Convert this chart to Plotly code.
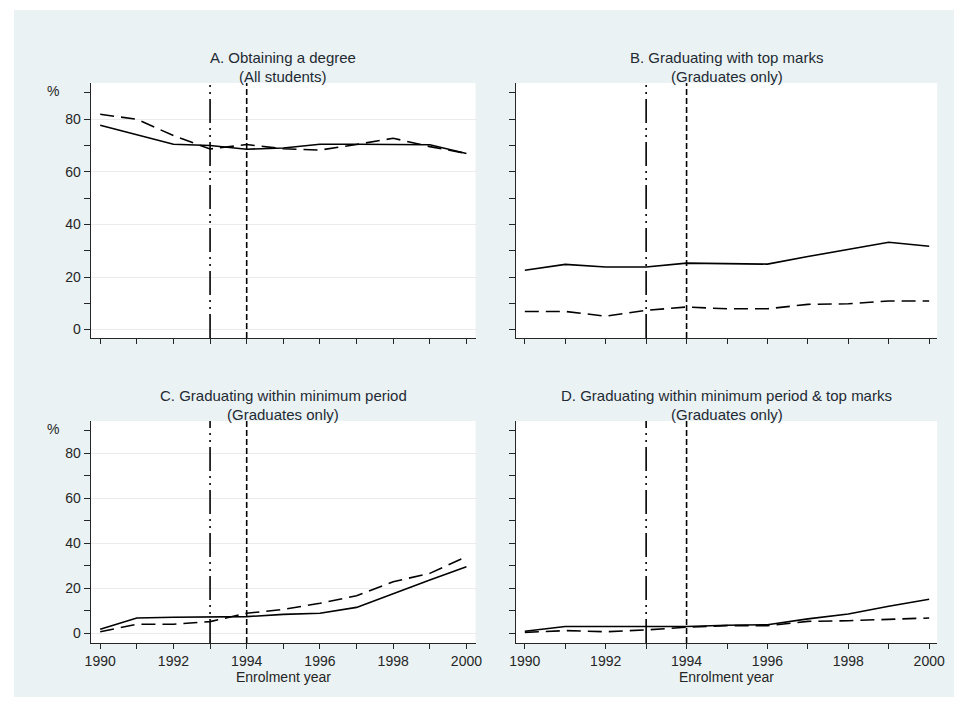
import plotly.graph_objects as go

years = [1990, 1991, 1992, 1993, 1994, 1995, 1996, 1997, 1998, 1999, 2000]

a_solid = [77.7, 74.0, 70.5, 70.0, 68.6, 69.1, 70.5, 70.5, 70.5, 70.3, 67.0]
a_dash = [81.9, 80.0, 73.8, 68.7, 70.4, 68.8, 68.3, 70.4, 72.8, 69.6, 67.0]

b_solid = [22.6, 24.8, 23.8, 23.8, 25.3, 25.1, 24.9, 27.8, 30.4, 33.2, 31.7]
b_dash = [6.9, 6.9, 5.1, 7.3, 8.6, 7.9, 7.9, 9.6, 9.8, 10.9, 10.9]

c_solid = [1.8, 6.8, 7.1, 7.4, 7.4, 8.4, 8.9, 11.5, 17.7, 23.6, 29.5]
c_dash = [0.7, 4.0, 4.0, 5.2, 8.9, 10.6, 13.3, 16.7, 22.9, 26.6, 34.0]

d_solid = [0.9, 3.0, 3.0, 3.0, 3.0, 3.6, 3.8, 6.4, 8.6, 12.0, 15.1]
d_dash = [0.4, 1.2, 0.7, 1.5, 2.7, 3.4, 3.4, 5.3, 5.6, 6.1, 6.8]

titles = ["A. Obtaining a degree", "B. Graduating with top marks",
          "C. Graduating within minimum period", "D. Graduating within minimum period & top marks"]
subtitles = ["(All students)", "(Graduates only)", "(Graduates only)", "(Graduates only)"]
reform_years = [1993, 1994]
xlabel = "Enrolment year"
ylabel = "%"
major_y = [0, 20, 40, 60, 80]
minor_y = [10, 30, 50, 70, 90]
x_ticks = [1990, 1991, 1992, 1993, 1994, 1995, 1996, 1997, 1998, 1999, 2000]
x_labels = ["1990", "", "1992", "", "1994", "", "1996", "", "1998", "", "2000"]

W, H = 962, 707
BG = "#eaf2f3"
INK = "#262626"
FONT = "Liberation Sans, Arial, sans-serif"

def px(x):
    return x / W

def py(y):
    return 1 - y / H

# panel boxes in pixels: left, right, top, bottom
boxes = [(85, 476, 83, 338), (517, 945, 83, 338), (85, 476, 421, 643), (517, 945, 421, 643)]
xranges = [[1989.74, 2000.25], [1989.78, 2000.2], [1989.74, 2000.25], [1989.78, 2000.2]]
yranges = [[-3.2, 93.8], [-3.2, 93.8], [-4.3, 94.2], [-4.3, 94.2]]
series = [(a_solid, a_dash), (b_solid, b_dash), (c_solid, c_dash), (d_solid, d_dash)]

fig = go.Figure()
shapes = [dict(type="rect", xref="paper", yref="paper", x0=px(7), x1=1, y0=py(697), y1=py(10),
               fillcolor=BG, line=dict(width=0), layer="below")]
annotations = []

for i in range(4):
    n = "" if i == 0 else str(i + 1)
    xa, ya = "x" + n, "y" + n
    l, r, t, b = boxes[i]
    shapes.append(dict(type="rect", xref="paper", yref="paper", x0=px(l), x1=px(r), y0=py(b), y1=py(t),
                       fillcolor="white", line=dict(width=0), layer="below"))
    solid, dash = series[i]
    fig.add_trace(go.Scatter(x=years, y=solid, mode="lines", xaxis=xa, yaxis=ya, showlegend=False,
                             line=dict(color="black", width=1.6)))
    fig.add_trace(go.Scatter(x=years, y=dash, mode="lines", xaxis=xa, yaxis=ya, showlegend=False,
                             line=dict(color="black", width=1.6, dash="14px,7px")))
    shapes.append(dict(type="line", xref=xa, yref=ya + " domain", x0=reform_years[0], x1=reform_years[0],
                       y0=0, y1=1, line=dict(color="black", width=1.6, dash="24px,5px,2px,5px,2px,5px")))
    shapes.append(dict(type="line", xref=xa, yref=ya + " domain", x0=reform_years[1], x1=reform_years[1],
                       y0=0, y1=1, line=dict(color="black", width=1.6, dash="6px,3px")))
    bottom = i >= 2
    left = i % 2 == 0
    fig.update_layout(**{
        "xaxis" + n: dict(domain=[px(l), px(r)], range=xranges[i], anchor=ya,
                          tickvals=x_ticks, ticktext=x_labels, showticklabels=bottom,
                          ticks="outside", ticklen=5, tickwidth=1, tickcolor=INK,
                          showgrid=False, zeroline=False, showline=True, linecolor=INK, linewidth=1,
                          tickfont=dict(family=FONT, size=14, color=INK)),
        "yaxis" + n: dict(domain=[py(b), py(t)], range=yranges[i], anchor=xa,
                          tickvals=major_y, showticklabels=left,
                          ticks="outside", ticklen=6, tickwidth=1, tickcolor=INK,
                          showgrid=left, gridcolor="#ebebeb", gridwidth=1,
                          zeroline=False, showline=True, linecolor=INK, linewidth=1,
                          minor=dict(tickvals=minor_y, ticks="outside", ticklen=6, tickcolor=INK, showgrid=False),
                          tickfont=dict(family=FONT, size=14, color=INK)),
    })
    cx = (l + r) / 2
    annotations.append(dict(text=titles[i], x=px(cx), y=py(t - 26), xref="paper", yref="paper",
                            xanchor="center", yanchor="middle", showarrow=False,
                            font=dict(family=FONT, size=15, color="#1f2a33")))
    annotations.append(dict(text=subtitles[i], x=px(cx), y=py(t - 7), xref="paper", yref="paper",
                            xanchor="center", yanchor="middle", showarrow=False,
                            font=dict(family=FONT, size=15, color="#1f2a33")))
    if left:
        annotations.append(dict(text=ylabel, x=px(47), y=py(t + 8), xref="paper", yref="paper",
                                xanchor="center", yanchor="middle", showarrow=False,
                                font=dict(family=FONT, size=14, color=INK)))
    if bottom:
        annotations.append(dict(text=xlabel, x=px(cx), y=py(677), xref="paper", yref="paper",
                                xanchor="center", yanchor="middle", showarrow=False,
                                font=dict(family=FONT, size=14, color=INK)))

fig.update_layout(width=W, height=H, margin=dict(l=0, r=0, t=0, b=0),
                  paper_bgcolor="white", plot_bgcolor="rgba(0,0,0,0)",
                  shapes=shapes, annotations=annotations, showlegend=False)

fig.write_html("out.html", config={"displayModeBar": False}, post_script=(
    "document.body.style.margin='0';document.body.style.padding='0';"
    "document.body.style.overflow='hidden';document.documentElement.style.overflow='hidden';"))
